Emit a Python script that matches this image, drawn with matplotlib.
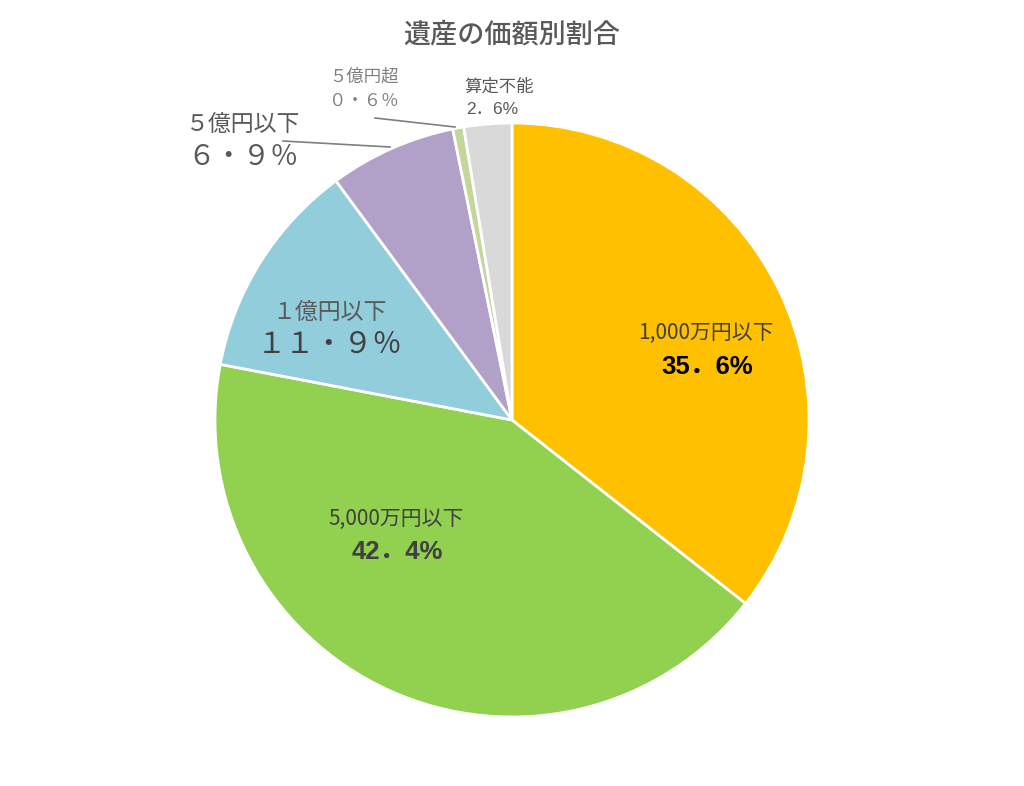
import matplotlib
matplotlib.use("Agg")
import matplotlib.pyplot as plt

plt.rcParams['font.family'] = ['Noto Sans CJK JP', 'DejaVu Sans']

title = "遺産の価額別割合"
categories = ["1,000万円以下", "5,000万円以下", "１億円以下", "５億円以下", "５億円超", "算定不能"]
values = [35.6, 42.4, 11.9, 6.9, 0.6, 2.6]
pct_labels = ["35．6%", "42．4%", "１１・９％", "６・９％", "０・６％", "2．6%"]
colors = ["#FFC000", "#92D050", "#92CDDC", "#B1A0C7", "#C4D79B", "#D9D9D9"]

W, H = 1024, 786
fig = plt.figure(figsize=(W / 100, H / 100), dpi=100)
ax = fig.add_axes([0, 0, 1, 1])

cx, cy, r = 512, H - 420, 297
ax.pie(values, colors=colors, startangle=90, counterclock=False,
       center=(cx, cy), radius=r,
       wedgeprops=dict(edgecolor="white", linewidth=2))
ax.set_xlim(0, W)
ax.set_ylim(0, H)
ax.set_aspect('equal')
ax.axis('off')

def P(x, y):
    return x, H - y

latin = ['Liberation Sans', 'Noto Sans CJK JP']
cjk = ['Noto Sans CJK JP', 'DejaVu Sans']

# label positions in pixels (name, pct)
name_pos = [(706, 333), (396, 519), (330, 312), (243, 124), (364, 77), (499, 87)]
pct_pos = [(707, 367), (397, 552), (330, 345), (243, 157), (364, 101), (492, 109)]
name_size = [15, 15, 16.5, 16.5, 12.5, 12.5]
pct_size = [18.5, 18.5, 21, 20, 12.5, 12.5]
pct_family = [latin, latin, cjk, cjk, cjk, latin]
pct_color = ["#000000", "#404040", "#404040", "#595959", "#7F7F7F", "#595959"]
pct_weight = ["bold", "bold", "normal", "normal", "normal", "normal"]
name_color = ["#404040", "#404040", "#595959", "#595959", "#7F7F7F", "#595959"]

for i in range(len(categories)):
    ax.text(*P(*name_pos[i]), categories[i], ha="center", va="center",
            fontsize=name_size[i], color=name_color[i])
    ax.text(*P(*pct_pos[i]), pct_labels[i], ha="center", va="center",
            fontsize=pct_size[i], color=pct_color[i], fontweight=pct_weight[i],
            family=pct_family[i])

# leader lines
ax.plot([283, 390], [H - 141, H - 147], color="#7F7F7F", lw=1.2)
ax.plot([375, 455], [H - 118, H - 127], color="#7F7F7F", lw=1.2)

ax.text(*P(512, 35), title, ha="center", va="center", fontsize=19.5,
        color="#595959", fontweight="medium")

fig.savefig("out.png", dpi=100, facecolor="white")
